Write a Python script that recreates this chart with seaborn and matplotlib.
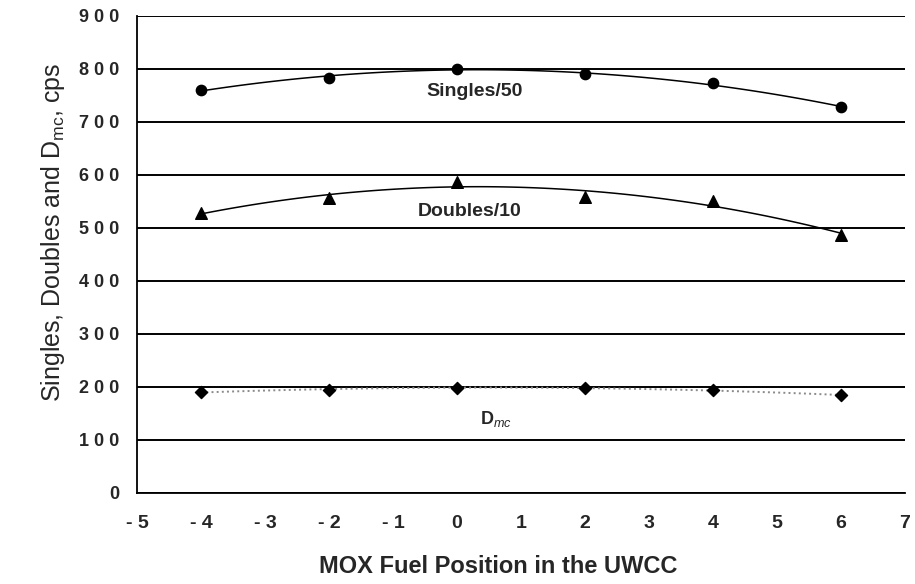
import numpy as np
import pandas as pd
import seaborn as sns
import matplotlib
matplotlib.use("Agg")
from matplotlib import pyplot as plt
from matplotlib.ticker import FuncFormatter

position = [-4, -2, 0, 2, 4, 6]
singles_50 = [760, 783, 800, 790, 773, 727]
doubles_10 = [528, 557, 587, 558, 550, 487]
d_mc = [190, 195, 198, 198, 194, 184]

df = pd.DataFrame({"pos": position, "singles": singles_50,
                   "doubles": doubles_10, "dmc": d_mc})

sns.set_style("white")
plt.rcParams["font.family"] = ["Liberation Sans", "DejaVu Sans"]
plt.rcParams["mathtext.fontset"] = "custom"
plt.rcParams["mathtext.rm"] = "Liberation Sans"
plt.rcParams["mathtext.it"] = "Liberation Sans:italic"
plt.rcParams["mathtext.bf"] = "Liberation Sans:bold"
plt.rcParams["mathtext.default"] = "regular"

fig = plt.figure(figsize=(9.15, 5.84), dpi=100)
ax = fig.add_axes([0.150, 0.156, 0.839, 0.817])

# second-order trendlines, like the spreadsheet original
sns.regplot(data=df, x="pos", y="singles", order=2, ci=None, ax=ax,
            marker="o", color="black",
            scatter_kws={"s": 55, "zorder": 4, "alpha": 1},
            line_kws={"lw": 1.1, "zorder": 3})
sns.regplot(data=df, x="pos", y="doubles", order=2, ci=None, ax=ax,
            marker="^", color="black",
            scatter_kws={"s": 70, "zorder": 4, "alpha": 1},
            line_kws={"lw": 1.1, "zorder": 3})
sns.regplot(data=df, x="pos", y="dmc", order=2, ci=None, ax=ax,
            marker="D", color="black",
            scatter_kws={"s": 38, "zorder": 4, "alpha": 1},
            line_kws={"lw": 1.4, "color": "#8a8a8a", "ls": ":", "zorder": 3})

ax.set_xlim(-5, 7)
ax.set_ylim(0, 900)
ax.set_xticks(range(-5, 8))
ax.set_yticks(range(0, 901, 100))

spaced = FuncFormatter(lambda v, p: " ".join(f"{int(v)}"))
ax.xaxis.set_major_formatter(spaced)
ax.yaxis.set_major_formatter(spaced)

ax.yaxis.grid(True, color="black", lw=1.4)
ax.set_axisbelow(True)
for s in ["top", "right"]:
    ax.spines[s].set_visible(False)
for s in ["left", "bottom"]:
    ax.spines[s].set_color("black")
    ax.spines[s].set_linewidth(1.3)

ax.tick_params(axis="both", which="major", direction="out", length=5,
               width=1, color="black")
ax.tick_params(axis="x", labelsize=14, pad=11)
ax.tick_params(axis="y", labelsize=13, pad=8)
for lab in ax.get_xticklabels() + ax.get_yticklabels():
    lab.set_fontweight("bold")

ax.set_xlabel("MOX Fuel Position in the UWCC", fontsize=17,
              fontweight="bold")
ax.xaxis.set_label_coords(0.47, -0.13)
ax.set_ylabel("Singles, Doubles and D$_{mc}$, cps", fontsize=18)
ax.yaxis.set_label_coords(-0.092, 0.547)

ax.text(0.27, 757, "Singles/50", fontsize=14, fontweight="bold",
        ha="center", va="center")
ax.text(0.2, 530, "Doubles/10", fontsize=14, fontweight="bold",
        ha="center", va="center")
ax.text(0.6, 140, r"$\mathbf{D}_{\mathit{mc}}$", fontsize=13,
        ha="center", va="center")

plt.savefig("out.png", dpi=100)
plt.close(fig)
